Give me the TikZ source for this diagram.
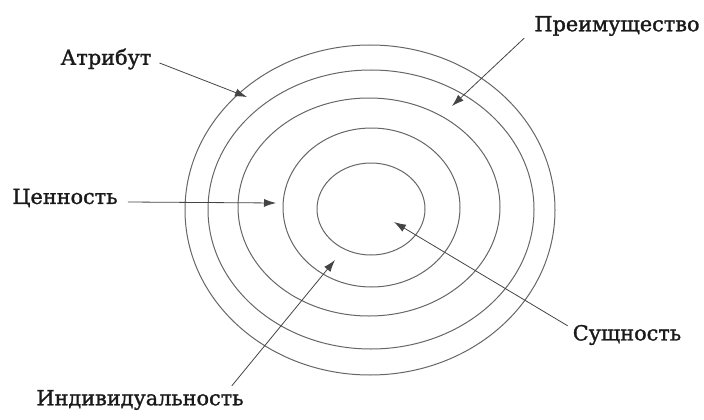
\documentclass[tikz,border=0pt]{standalone}
\usepackage{fontspec}
\setmainfont[FakeBold=1.4]{DejaVu Serif}
\usepackage{tikz}
\usetikzlibrary{arrows.meta,positioning,calc}
\definecolor{ink}{HTML}{1A1A1A}
\definecolor{ringgray}{HTML}{666666}
\definecolor{pointergray}{HTML}{444444}
\tikzset{
  ring/.style={draw=ringgray, line width=1pt},
  termlabel/.style={text=ink, inner sep=2pt, font=\fontsize{20.8}{24}\selectfont},
  pointer/.style={draw=pointergray, line width=0.8pt, -{Latex[length=12pt,width=8pt]}}
}

\begin{document}
\begin{tikzpicture}[x=1pt,y=-1pt]
  \useasboundingbox (0,0) rectangle (704,420);
  % nested rings, outer to inner
  \foreach \cx/\cy/\rx/\ry in {370/210/185/165, 371/209.5/163/139.5, 369/207/131/109, 371.5/207.5/88.5/79.5, 371/209/54/46} {
    \draw[ring] (\cx,\cy) ellipse [x radius=\rx, y radius=\ry];
  }
  % labels
  \node[termlabel] (attr) at (106,59) {Атрибут};
  \node[termlabel] (value) at (65,198) {Ценность};
  \node[termlabel] (advant) at (617,26) {Преимущество};
  \node[termlabel] (indiv) at (140,400) {Индивидуальность};
  \node[termlabel] (essence) at (627,335) {Сущность};
  % arrow tips
  \coordinate (attrtip) at (247,97);
  \coordinate (valuetip) at (276,203);
  \coordinate (advanttip) at (452,106);
  \coordinate (indivtip) at (335,260);
  \coordinate (essencetip) at (394,222);
  % pointers
  \draw[pointer] ($(attr.east)+(6,4)$) -- (attrtip);
  \draw[pointer] ($(value.east)+(8,4)$) -- (valuetip);
  \draw[pointer] ($(advant.south west)+(-8,0)$) -- (advanttip);
  \draw[pointer] ($(indiv.north east)+(-14,-2)$) -- (indivtip);
  \draw[pointer] ($(essence.north west)+(-3,3)$) -- (essencetip);
\end{tikzpicture}
\end{document}
